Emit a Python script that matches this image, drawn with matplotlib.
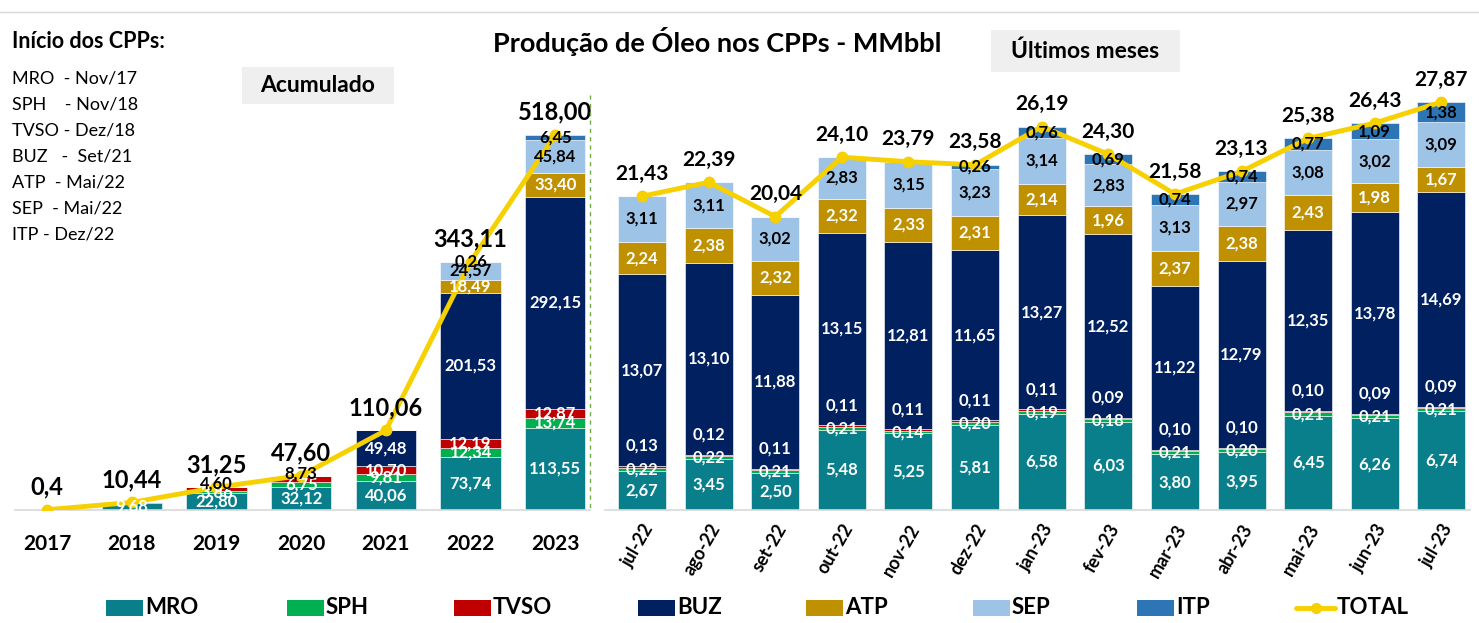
import matplotlib
matplotlib.use("Agg")
import matplotlib.pyplot as plt
from matplotlib.patches import Rectangle
from matplotlib.lines import Line2D
import numpy as np

plt.rcParams['font.family'] = ['Lato', 'DejaVu Sans']

# ---------------- DATA ----------------
series = ["MRO", "SPH", "TVSO", "BUZ", "ATP", "SEP", "ITP"]
colors = {"MRO": "#0A7F8C", "SPH": "#00B050", "TVSO": "#C00000", "BUZ": "#002060",
          "ATP": "#BF9000", "SEP": "#9DC3E6", "ITP": "#2E75B6"}
line_color = "#F7D000"

years = ["2017", "2018", "2019", "2020", "2021", "2022", "2023"]
y_MRO = [0.40, 9.68, 22.80, 32.12, 40.06, 73.74, 113.55]
y_SPH = [0.00, 0.46, 3.86, 6.75, 9.81, 12.34, 13.74]
y_TVSO = [0.00, 0.30, 4.60, 8.73, 10.70, 12.19, 12.87]
y_BUZ = [0.00, 0.00, 0.00, 0.00, 49.48, 201.53, 292.15]
y_ATP = [0.00, 0.00, 0.00, 0.00, 0.00, 18.49, 33.40]
y_SEP = [0.00, 0.00, 0.00, 0.00, 0.00, 24.57, 45.84]
y_ITP = [0.00, 0.00, 0.00, 0.00, 0.00, 0.26, 6.45]
y_TOTAL = [0.4, 10.44, 31.25, 47.60, 110.06, 343.11, 518.00]
y_TOTAL_labels = ["0,4", "10,44", "31,25", "47,60", "110,06", "343,11", "518,00"]

months = ["jul-22", "ago-22", "set-22", "out-22", "nov-22", "dez-22", "jan-23",
          "fev-23", "mar-23", "abr-23", "mai-23", "jun-23", "jul-23"]
m_MRO = [2.67, 3.45, 2.50, 5.48, 5.25, 5.81, 6.58, 6.03, 3.80, 3.95, 6.45, 6.26, 6.74]
m_SPH = [0.22, 0.22, 0.21, 0.21, 0.14, 0.20, 0.19, 0.18, 0.21, 0.20, 0.21, 0.21, 0.21]
m_TVSO = [0.13, 0.12, 0.11, 0.11, 0.11, 0.11, 0.11, 0.09, 0.10, 0.10, 0.10, 0.09, 0.09]
m_BUZ = [13.07, 13.10, 11.88, 13.15, 12.81, 11.65, 13.27, 12.52, 11.22, 12.79, 12.35, 13.78, 14.69]
m_ATP = [2.24, 2.38, 2.32, 2.32, 2.33, 2.31, 2.14, 1.96, 2.37, 2.38, 2.43, 1.98, 1.67]
m_SEP = [3.11, 3.11, 3.02, 2.83, 3.15, 3.23, 3.14, 2.83, 3.13, 2.97, 3.08, 3.02, 3.09]
m_ITP = [0.00, 0.00, 0.00, 0.00, 0.00, 0.26, 0.76, 0.69, 0.74, 0.74, 0.77, 1.09, 1.38]
m_TOTAL = [21.43, 22.39, 20.04, 24.10, 23.79, 23.58, 26.19, 24.30, 21.58, 23.13, 25.38, 26.43, 27.87]

start_notes = ["MRO  - Nov/17", "SPH    - Nov/18", "TVSO - Dez/18", "BUZ   -  Set/21",
               "ATP  - Mai/22", "SEP  - Mai/22", "ITP - Dez/22"]

left_data = dict(zip(series, [y_MRO, y_SPH, y_TVSO, y_BUZ, y_ATP, y_SEP, y_ITP]))
right_data = dict(zip(series, [m_MRO, m_SPH, m_TVSO, m_BUZ, m_ATP, m_SEP, m_ITP]))

dark_text = {"SEP", "ITP"}


def fmt(v):
    return f"{v:.2f}".replace(".", ",")


# ---------------- FIGURE ----------------
W, H = 1479, 623
fig = plt.figure(figsize=(W / 100, H / 100), dpi=100)


def fx(px):
    return px / W


def fy(py):
    return 1 - py / H


base = 510
top = 60
axL = fig.add_axes([fx(15), fy(base), fx(590) - fx(15), fy(top) - fy(base)])
axR = fig.add_axes([fx(605), fy(base), fx(1470) - fx(605), fy(top) - fy(base)])

LBL = 12


def draw_panel(ax, cats, data, totals, width, is_left):
    x = np.arange(len(cats))
    bottom = np.zeros(len(cats))
    for s in series:
        vals = np.array(data[s])
        ax.bar(x, vals, width, bottom=bottom, color=colors[s], edgecolor="white",
               linewidth=0.4, zorder=2)
        for i, v in enumerate(vals):
            if v <= 0:
                continue
            if is_left and v < 1 and totals[i] < 100:
                continue
            ycen = bottom[i] + v / 2
            col = "black" if s in dark_text else "white"
            dy = 0
            if not is_left and s == "TVSO":
                dy = 15
            if is_left and s == "TVSO" and totals[i] < 60:
                col = "black"
                dy = 4
            ax.annotate(fmt(v), (x[i], ycen), xytext=(0, dy), textcoords="offset points",
                        ha="center", va="center", fontsize=LBL, fontweight="bold",
                        color=col, zorder=4)
        bottom += vals
    ax.plot(x, totals, color=line_color, linewidth=3.5, marker="o", markersize=7.5,
            zorder=3, solid_capstyle="round")
    ax.set_xticks(x)
    ax.set_yticks([])
    for sp in ["top", "right", "left"]:
        ax.spines[sp].set_visible(False)
    ax.spines["bottom"].set_color("#D9D9D9")
    ax.spines["bottom"].set_linewidth(1.2)
    ax.tick_params(axis="x", length=0)
    return x


xl = draw_panel(axL, years, left_data, y_TOTAL, 0.71, True)
axL.set_xlim(-0.378, 6.41)
axL.set_ylim(0, (base - top) / 0.724)
axL.set_xticklabels(years, fontsize=15, fontweight="bold")
axL.tick_params(axis="x", pad=17)
for i, t in enumerate(y_TOTAL_labels):
    axL.annotate(t, (xl[i], y_TOTAL[i]), xytext=(0, 8), textcoords="offset points",
                 ha="center", va="bottom", fontsize=17, fontweight="bold", color="black", zorder=5)

xr = draw_panel(axR, months, right_data, m_TOTAL, 0.72, False)
axR.set_xlim(-0.556, 12.43)
axR.set_ylim(0, (base - top) / 14.64)
axR.set_xticklabels(months, fontsize=13, fontweight="bold", rotation=60, ha="right",
                    rotation_mode="anchor")
axR.tick_params(axis="x", pad=8)
for i, v in enumerate(m_TOTAL):
    axR.annotate(fmt(v), (xr[i], v), xytext=(0, 9), textcoords="offset points",
                 ha="center", va="bottom", fontsize=15, fontweight="bold", color="black", zorder=5)

# ---------------- DECORATIONS ----------------
fig.add_artist(Line2D([0, 1], [fy(12), fy(12)], transform=fig.transFigure,
                      color="#D9D9D9", linewidth=1))
fig.add_artist(Line2D([fx(590), fx(590)], [fy(95), fy(base)], transform=fig.transFigure,
                      color="#70AD47", linewidth=1, linestyle=(0, (3, 3))))

fig.text(fx(717), fy(42), "Produção de Óleo nos CPPs - MMbbl", ha="center", va="center",
         fontsize=19.5, fontweight="bold")

fig.add_artist(Rectangle((fx(242), fy(104)), fx(394) - fx(242), fy(67) - fy(104),
                         transform=fig.transFigure, facecolor="#EFEFEF", edgecolor="none"))
fig.text(fx(318), fy(86), "Acumulado", ha="center", va="center", fontsize=16.5, fontweight="bold")
fig.add_artist(Rectangle((fx(991), fy(72)), fx(1180) - fx(991), fy(30) - fy(72),
                         transform=fig.transFigure, facecolor="#EFEFEF", edgecolor="none"))
fig.text(fx(1085), fy(51), "Últimos meses", ha="center", va="center", fontsize=16.5, fontweight="bold")

fig.text(fx(12), fy(42), "Início dos CPPs:", ha="left", va="center", fontsize=15.5, fontweight="bold")
for k, s in enumerate(start_notes):
    fig.text(fx(12), fy(78 + 26 * k), s, ha="left", va="center", fontsize=13)

# legend (manual placement)
leg_y = 608
sw_x = [106, 287, 454, 638, 806, 973, 1137]
for s, x0 in zip(series, sw_x):
    fig.add_artist(Rectangle((fx(x0), fy(leg_y + 8)), fx(37), 16 / H,
                             transform=fig.transFigure, facecolor=colors[s], edgecolor="none"))
    fig.text(fx(x0 + 39), fy(leg_y), s, ha="left", va="center", fontsize=16, fontweight="bold")
fig.add_artist(Line2D([fx(1296), fx(1335)], [fy(leg_y), fy(leg_y)], transform=fig.transFigure,
                      color=line_color, linewidth=3.5, solid_capstyle="round"))
fig.add_artist(Line2D([fx(1315.5)], [fy(leg_y)], transform=fig.transFigure,
                      color=line_color, marker="o", markersize=7, linestyle="none"))
fig.text(fx(1337), fy(leg_y), "TOTAL", ha="left", va="center", fontsize=16, fontweight="bold")

fig.savefig("out.png", dpi=100)
